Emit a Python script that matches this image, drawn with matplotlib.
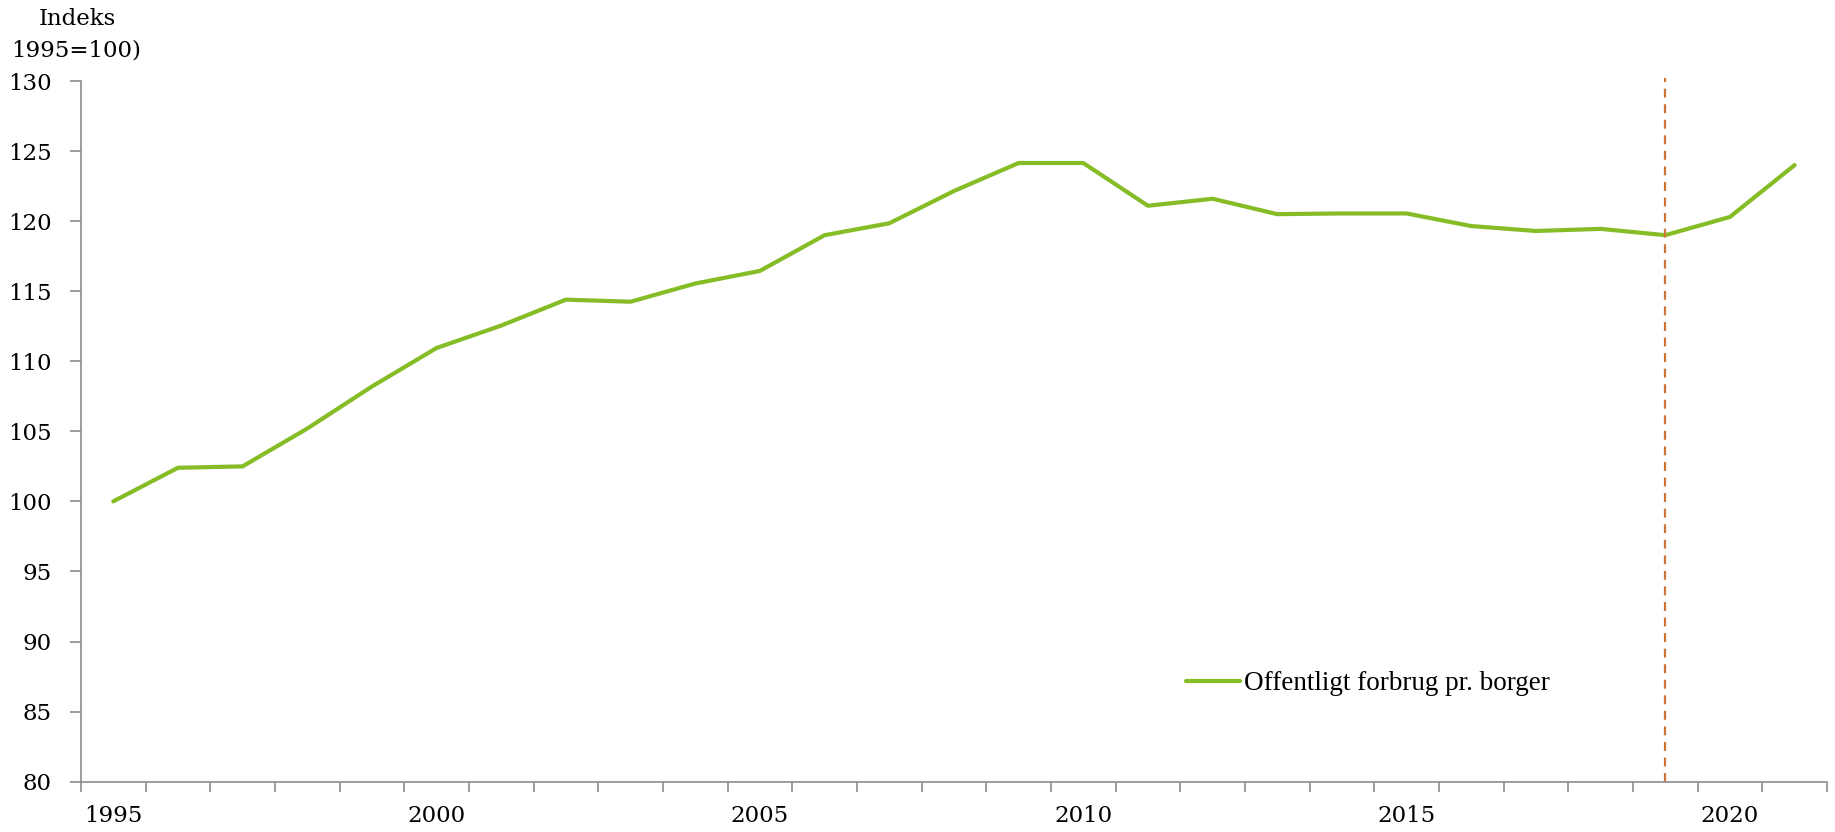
import numpy as np
import matplotlib
matplotlib.use("Agg")
import matplotlib.pyplot as plt

years = list(range(1995, 2022))
forbrug = [100.0, 102.4, 102.5, 105.2, 108.2, 110.95, 112.55, 114.4, 114.25,
           115.55, 116.45, 119.0, 119.85, 122.15, 124.15, 124.15, 121.1, 121.6,
           120.5, 120.55, 120.55, 119.65, 119.3, 119.45, 119.0, 120.3, 124.0]
label_years = [1995, 2000, 2005, 2010, 2015, 2020]
y_ticks = np.arange(80, 131, 5)
marker_year = 2019

GREEN = '#86BC25'
ORANGE = '#CD7436'
GRAY = '#8C8C8C'
NUM_FONT = 'DejaVu Serif'
FS = 16.5

fig = plt.figure(figsize=(18.35, 8.32), dpi=100)
ax = fig.add_axes([0.0441, 0.0605, 0.9515, 0.8421])

x = np.arange(len(years))
ax.plot(x, forbrug, color=GREEN, linewidth=3.0, solid_capstyle='round',
        label='Offentligt forbrug pr. borger')
ax.axvline(years.index(marker_year), color=ORANGE, linewidth=1.6,
           linestyle=(0, (4, 3)), ymax=1.005, clip_on=False)

ax.set_xlim(-0.5, len(years) - 0.5)
ax.set_ylim(80, 130)

# boundary ticks between categories, labels at category centres
ax.set_xticks(np.arange(len(years) + 1) - 0.5)
ax.set_xticklabels([])
ax.set_xticks([years.index(y) for y in label_years], minor=True)
ax.set_xticklabels([str(y) for y in label_years], minor=True,
                   fontfamily=NUM_FONT, fontsize=FS)
ax.tick_params(axis='x', which='major', length=7, width=1.2, color=GRAY, direction='out')
ax.tick_params(axis='x', which='minor', length=0, pad=17)

ax.set_yticks(y_ticks)
ax.set_yticklabels([str(v) for v in y_ticks], fontfamily=NUM_FONT, fontsize=FS)
ax.tick_params(axis='y', length=8, width=1.2, color=GRAY, direction='out', pad=13)

for side in ['top', 'right']:
    ax.spines[side].set_visible(False)
for side in ['left', 'bottom']:
    ax.spines[side].set_color(GRAY)
    ax.spines[side].set_linewidth(1.2)

fig.text(77 / 1835, 1 - 19 / 832, 'Indeks', ha='center', va='center',
         fontfamily=NUM_FONT, fontsize=FS)
fig.text(76 / 1835, 1 - 50 / 832, '1995=100)', ha='center', va='center',
         fontfamily=NUM_FONT, fontsize=FS)

leg = ax.legend(loc='lower left', bbox_to_anchor=(1186 / 1835, 1 - 696 / 832),
                bbox_transform=fig.transFigure, frameon=False,
                prop={'family': 'Liberation Serif', 'size': 19.5},
                handlelength=2.0, handletextpad=0.15, borderpad=0, borderaxespad=0)

fig.savefig('out.png', dpi=100)
